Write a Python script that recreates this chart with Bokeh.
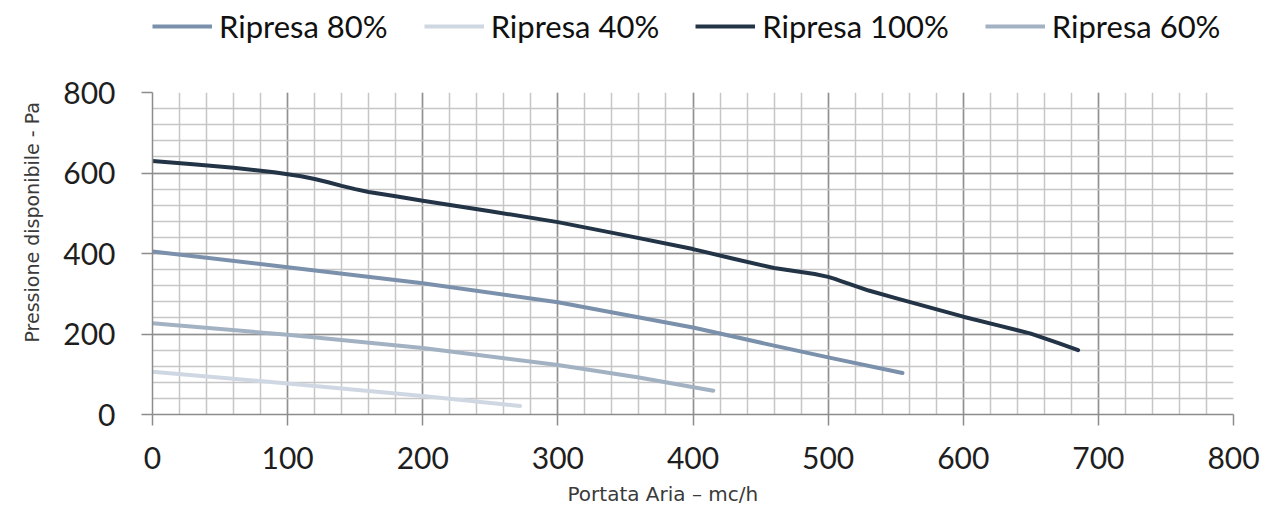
from bokeh.plotting import figure
from bokeh.layouts import column
from bokeh.models import Legend, LegendItem, Title, SingleIntervalTicker, Range1d
from bokeh.embed import file_html
from bokeh.resources import INLINE

# ---- data ----
x_100 = [0, 30, 60, 90, 100, 110, 120, 130, 140, 150, 160, 180, 200, 250, 300, 350, 400, 430, 460, 480,
         490, 500, 505, 510, 515, 530, 550, 575, 600, 625, 650, 670, 685]
y_100 = [630, 622, 613, 602, 597, 592, 585, 577, 568, 560, 553, 542, 531, 505, 478, 445, 411, 387, 364, 354,
         349, 342, 337, 331, 325, 308, 289, 266, 243, 222, 201, 178, 160]

x_80 = [0, 100, 200, 300, 400, 460, 500, 555]
y_80 = [405, 366, 326, 279, 216, 171, 142, 103]

x_60 = [0, 100, 200, 300, 360, 415]
y_60 = [227, 198, 165, 123, 92, 59]

x_40 = [0, 100, 200, 272]
y_40 = [106, 77, 46, 21]

labels = ["Ripresa 80%", "Ripresa 40%", "Ripresa 100%", "Ripresa 60%"]
colors = ["#7b91ab", "#cfd8e2", "#243447", "#a3b2c3"]

# ---------- main chart ----------
p = figure(width=1271, height=466,
           x_range=Range1d(0, 800), y_range=Range1d(0, 800),
           output_backend="svg", toolbar_location=None,
           min_border_left=151, min_border_right=38,
           min_border_top=44, min_border_bottom=100)
p.outline_line_color = None
p.background_fill_color = "white"
p.border_fill_color = "white"

p.xaxis.ticker = SingleIntervalTicker(interval=100, num_minor_ticks=5)
p.yaxis.ticker = SingleIntervalTicker(interval=200, num_minor_ticks=5)

for g in (p.xgrid, p.ygrid):
    g.grid_line_color = "#909090"
    g.grid_line_width = 1.5
    g.minor_grid_line_color = "#c6c6c6"
    g.minor_grid_line_width = 1.5

for ax in (p.xaxis, p.yaxis):
    ax.axis_line_color = "#8c8c8c"
    ax.axis_line_width = 1.5
    ax.major_tick_line_color = "#8c8c8c"
    ax.major_tick_line_width = 1.5
    ax.major_tick_out = 11
    ax.major_tick_in = 0
    ax.minor_tick_out = 0
    ax.minor_tick_in = 0
    ax.major_label_text_font = "Lato"
    ax.major_label_text_font_size = "30px"
    ax.major_label_text_color = "#1e1e1e"
p.xaxis.major_label_standoff = 21
p.yaxis.major_label_standoff = 26

series = [(x_80, y_80), (x_40, y_40), (x_100, y_100), (x_60, y_60)]
for (xs, ys), c in zip(series, colors):
    p.line(xs, ys, line_color=c, line_width=4, line_cap="round", line_join="round")

xt = Title(text="Portata Aria – mc/h", align="left", offset=415,
           text_font="DejaVu Sans", text_font_size="20px", text_font_style="normal",
           text_color="#3a3a3a", standoff=17)
p.add_layout(xt, "below")
yt = Title(text="Pressione disponibile - Pa", align="left", offset=72,
           text_font="DejaVu Sans", text_font_size="19px", text_font_style="normal",
           text_color="#3a3a3a", standoff=36)
p.add_layout(yt, "left")

# ---------- legend strip above the chart ----------
lf = figure(width=1271, height=48, x_range=Range1d(0, 1), y_range=Range1d(0, 1),
            x_axis_type=None, y_axis_type=None,
            output_backend="svg", toolbar_location=None, min_border=0)
lf.outline_line_color = None
lf.background_fill_color = "white"
lf.border_fill_color = "white"

# one-point (invisible, out-of-range) renderers that only carry the legend styles
swatches = []
for (xs, ys), c in zip(series, colors):
    swatches.append(lf.line(x=xs[:1], y=ys[:1], line_color=c, line_width=4))

legend = Legend(items=[LegendItem(label=l, renderers=[r]) for l, r in zip(labels, swatches)],
                orientation="horizontal", location=(0, 3),
                padding=0, margin=0, spacing=36,
                glyph_width=60, glyph_height=20, label_height=37,
                label_standoff=7,
                label_text_font="Lato", label_text_font_size="31px",
                label_text_color="#111111",
                border_line_alpha=0, background_fill_alpha=0)
lf.add_layout(legend)

layout = column(lf, p, spacing=0)
open("out.html", "w").write(file_html(layout, INLINE))
